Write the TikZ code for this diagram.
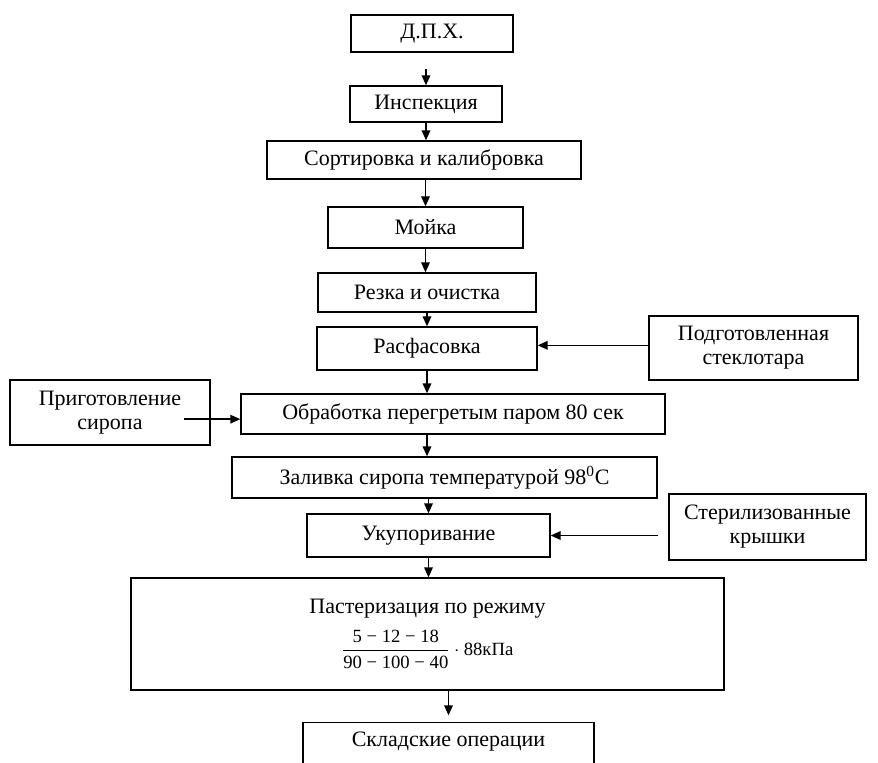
\documentclass[tikz,border=0pt]{standalone}
\usepackage{fontspec}
\setmainfont{Liberation Serif}
\usepackage{amsmath}
\usetikzlibrary{positioning,arrows.meta}

\begin{document}
\begin{tikzpicture}[x=0.75pt,y=-0.75pt,font=\fontsize{16.5}{18}\selectfont,
  box/.style={draw, line width=1.05pt, inner sep=2pt, align=center},
  sig/.style={-{Triangle[length=7.5pt,width=6.5pt]}, line width=1.05pt}]
\useasboundingbox (0,0) rectangle (878,763);
\node[box, minimum width=121.5pt, minimum height=27.75pt] (dph) at (432,33.5) {Д.П.Х.};
\node[box, minimum width=114pt, minimum height=27pt] (insp) at (426,104) {Инспекция};
\node[box, minimum width=235.5pt, minimum height=28.5pt] (sort) at (424,160) {Сортировка и калибровка};
\node[box, minimum width=146.25pt, minimum height=30.75pt] (wash) at (425.5,227.5) {Мойка};
\node[box, minimum width=163.5pt, minimum height=29.25pt] (cut) at (427,292.5) {Резка и очистка};
\node[box, minimum width=165pt, minimum height=32.25pt] (pack) at (427,348.5) {Расфасовка};
\node[box, minimum width=156.75pt, minimum height=48pt] (jars) at (753.5,348) {Подготовленная\\стеклотара};
\node[box, minimum width=150pt, minimum height=48.75pt] (syrup) at (110,412.5) {Приготовление\\сиропа};
\node[box, minimum width=318pt, minimum height=30pt] (steam) at (453,414) {Обработка перегретым паром 80 сек};
\node[box, minimum width=318.75pt, minimum height=30.75pt] (fill) at (444.5,477.5) {Заливка сиропа температурой 98\textsuperscript{0}C};
\node[box, minimum width=182.25pt, minimum height=32.25pt] (seal) at (428.5,535.5) {Укупоривание};
\node[box, minimum width=147.75pt, minimum height=49.5pt] (lids) at (767.5,527) {Стерилизованные\\крышки};
\node[box, minimum width=444.75pt, minimum height=84pt] (past) at (427.5,634) {Пастеризация по режиму\\[8pt]
  \fontsize{14}{16}\selectfont $\dfrac{\text{5 − 12 − 18}}{\text{90 − 100 − 40}}\cdot\text{88кПа}$};
\node[box, anchor=north, minimum width=218.25pt, inner ysep=8pt, text height=10pt, text depth=40pt] (store) at (448.5,722) {Складские операции};
\draw[sig, shorten <=12pt] (insp.north |- dph.south) -- (insp.north);
\draw[sig] (insp.south) -- (insp.south |- sort.north);
\draw[sig] (wash.north |- sort.south) -- (wash.north);
\draw[sig] (wash.south) -- (wash.south |- cut.north);
\draw[sig] (cut.south) -- (pack.north);
\draw[sig] ([yshift=2pt]jars.west) -- ([yshift=2pt]jars.west -| pack.east);
\draw[sig] (pack.south) -- (pack.south |- steam.north);
\draw[sig] ([xshift=-20pt,yshift=-5pt]syrup.east) -- ([yshift=-5pt]syrup.east -| steam.west);
\draw[sig] (steam.south -| pack.south) -- (fill.north -| pack.south);
\draw[sig] (seal.north |- fill.south) -- (seal.north);
\draw[sig] ([xshift=-7.5pt]seal.east -| lids.west) -- (seal.east);
\draw[sig] (seal.south) -- (seal.south |- past.north);
\draw[sig, shorten >=5pt] (store.north |- past.south) -- (store.north);
\end{tikzpicture}
\end{document}
